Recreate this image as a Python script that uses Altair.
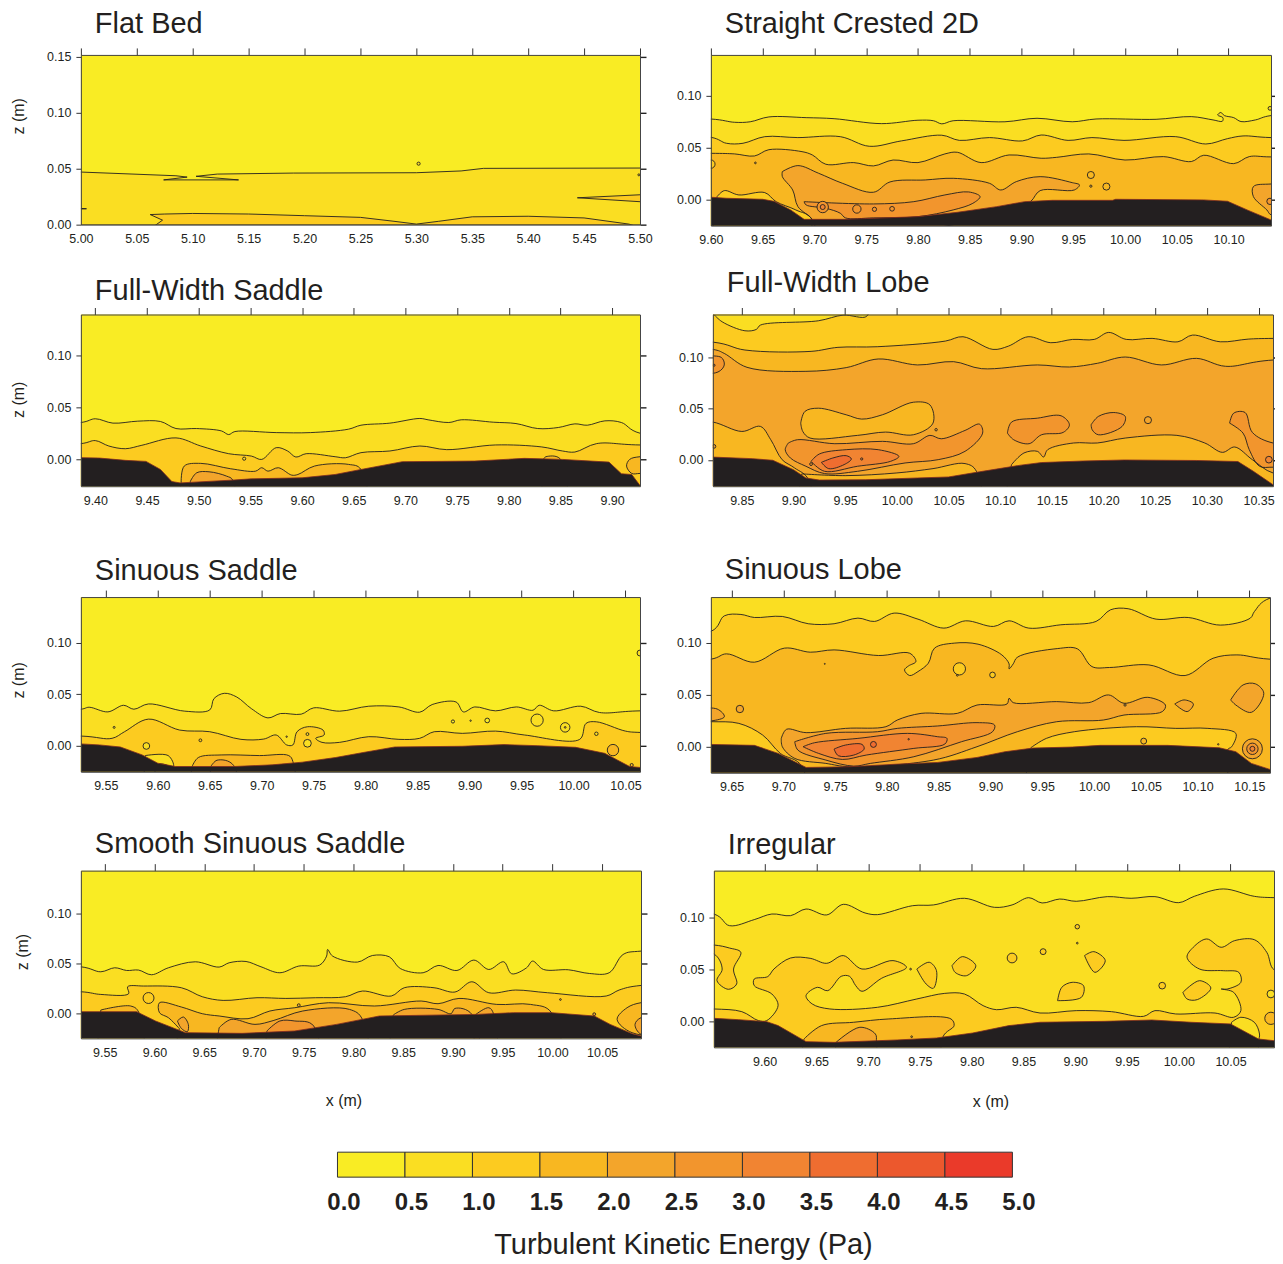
import altair as alt
import pandas as pd

FONT = "Liberation Sans"
INK = "#231F20"
COLORS = ["#F9EC24", "#FADE22", "#FCCB20", "#F8B721", "#F3A52B", "#F2952D", "#F18432", "#EF6D30", "#EC582D", "#EA3A2A"]
LEVELS = list(range(10))

# ---- Flat Bed
FB_BED = [(5.0, 0.0), (5.5, 0.0)]
FB_L1 = [(5.0,.047),(5.085,.0437),(5.095,.0425),(5.074,.040),(5.141,.040),(5.103,.0432),(5.122,.0452),(5.19,.0461),(5.30,.0464),(5.34,.048),(5.36,.0503),(5.50,.0506)]
FB_L2 = [(5.066,-.001),(5.073,.004),(5.062,.009),(5.075,.0095),(5.10,.0100),(5.15,.0095),(5.20,.0080),(5.25,.0065),(5.28,.003),(5.30,.0005),(5.32,.003),(5.35,.007),(5.40,.0075),(5.45,.006),(5.49,.0005),(5.495,-.001)]
FB_W = [(5.6,.0267),(5.50,.0267),(5.444,.024),(5.50,.0205),(5.6,.0205)]
FB_T = [(5.0,.014),(5.005,.0142),(5.0,.0145)]
FB_POINTS = [(5.302,.0545,10,1),(5.499,.0445,4,1)]

# ---- Straight Crested 2D
SC_BED = [(9.60,.002),(9.615,.001),(9.65,0),(9.661,-.002),(9.677,-.0103),(9.69,-.0194),(9.729,-.0194),(9.757,-.0184),(9.80,-.0168),(9.838,-.0126),(9.876,-.0071),(9.903,-.0023),(9.93,-.001),(9.988,-.001),(9.991,0),(10.076,-.0006),(10.099,-.0019),(10.118,-.0103),(10.141,-.02)]
SC_L1 = [(9.6,.0777),(9.623,.0745),(9.638,.075),(9.656,.0797),(9.692,.079),(9.719,.078),(9.765,.0732),(9.80,.0765),(9.815,.076),(9.823,.073),(9.834,.076),(9.884,.075),(9.915,.0784),(9.949,.075),(9.972,.0777),(10.03,.0774),(10.064,.08),(10.085,.0768),(10.094,.0755),(10.0945,.079),(10.0895,.0815),(10.0925,.084),(10.096,.081),(10.105,.079),(10.112,.0752),(10.126,.0768),(10.141,.081)]
SC_L2 = [(9.6,.06),(9.615,.0542),(9.631,.0542),(9.652,.0606),(9.684,.0597),(9.725,.0606),(9.753,.0513),(9.784,.0565),(9.823,.062),(9.84,.057),(9.869,.0597),(9.901,.0565),(9.919,.0622),(9.945,.057),(9.968,.0597),(9.999,.057),(10.049,.0606),(10.078,.0535),(10.099,.0587),(10.114,.0613),(10.141,.0597)]
SC_L3 = [(9.6,.0445),(9.623,.0439),(9.642,.0419),(9.656,.048),(9.688,.0461),(9.698,.0429),(9.711,.0339),(9.738,.0355),(9.757,.0323),(9.776,.038),(9.80,.0355),(9.826,.0439),(9.838,.0455),(9.861,.0355),(9.888,.0429),(9.919,.0397),(9.934,.0406),(9.965,.0439),(10.0,.038),(10.037,.0413),(10.064,.0365),(10.076,.0426),(10.105,.0345),(10.12,.0413),(10.141,.041)]
SC_B4 = [(9.669,.0268),(9.684,.0326),(9.704,.0252),(9.727,.0155),(9.757,.0068),(9.773,.0168),(9.807,.0187),(9.834,.0203),(9.869,.0155),(9.88,.009),(9.895,.0171),(9.918,.0219),(9.949,.0161),(9.956,.0139),(9.951,.009),(9.918,.0084),(9.909,-.002),(9.895,-.009),(9.80,-.03),(9.698,-.03),(9.698,-.02),(9.684,-.007),(9.679,.009),(9.669,.022)]
SC_B5 = [(9.69,-.0023),(9.757,-.0045),(9.796,-.0023),(9.826,.0042),(9.849,.0071),(9.86,.0026),(9.853,-.0039),(9.834,-.0103),(9.80,-.0168),(9.757,-.018),(9.73,-.018),(9.725,-.0135),(9.711,-.0087),(9.692,-.0055)]
SC_P2 = [(9.606,.0026),(9.613,.0084),(9.627,.0042),(9.652,.0065),(9.663,-.0023),(9.682,-.0103),(9.698,-.02)]
SC_R4 = [(10.2,.0148),(10.141,.0148),(10.124,.0123),(10.124,.0026),(10.137,-.0103),(10.141,-.015),(10.2,-.015)]
SC_POINTS = [(9.6,.034,70,2),(9.643,.0352,3,3),(9.708,-.0075,130,5),(9.708,-.0075,25,6),(9.741,-.0094,70,5),(9.758,-.0097,18,5),(9.775,-.0092,22,5),(9.967,.0235,50,3),(9.982,.0123,50,3),(9.967,.0127,5,3),(10.14,.088,14,1),(10.14,-.002,40,5)]

# ---- Full-Width Saddle
FS_BED = [(9.386,.002),(9.404,.0016),(9.429,-.0006),(9.449,-.0016),(9.463,-.0094),(9.474,-.021),(9.482,-.0223),(9.531,-.0197),(9.551,-.0184),(9.60,-.0174),(9.632,-.0142),(9.657,-.0094),(9.697,-.0019),(9.767,-.0013),(9.815,.0013),(9.852,.0003),(9.897,-.0023),(9.909,-.0135),(9.919,-.0142),(9.927,-.0248)]
FS_L1 = [(9.386,.0358),(9.40,.0394),(9.417,.0352),(9.441,.0371),(9.463,.0368),(9.478,.03),(9.498,.03),(9.522,.0277),(9.529,.0242),(9.535,.0271),(9.575,.0261),(9.608,.0261),(9.645,.0294),(9.657,.0332),(9.685,.0352),(9.714,.0397),(9.722,.0384),(9.742,.0358),(9.754,.0384),(9.785,.0361),(9.807,.0348),(9.828,.03),(9.848,.031),(9.864,.0345),(9.876,.0332),(9.893,.0374),(9.909,.0358),(9.927,.0255)]
FS_L2 = [(9.386,.0155),(9.40,.0184),(9.413,.0132),(9.429,.0106),(9.445,.0139),(9.478,.021),(9.502,.0132),(9.529,.0058),(9.551,.0035),(9.561,.0003),(9.575,.0116),(9.586,.0084),(9.594,.0026),(9.604,.0058),(9.632,.0029),(9.642,.0019),(9.657,.0068),(9.685,.0084),(9.714,.0132),(9.74,.0097),(9.787,.0142),(9.832,.0123),(9.852,.0084),(9.864,.0074),(9.885,.0155),(9.927,.0142)]
FS_B3 = [(9.483,-.0223),(9.486,-.0061),(9.502,-.0035),(9.531,-.0087),(9.555,-.011),(9.561,-.0077),(9.567,-.011),(9.577,-.0077),(9.59,-.0148),(9.596,-.0142),(9.612,-.0061),(9.645,-.0045),(9.657,-.0094)]
FS_B4 = [(9.492,-.0206),(9.498,-.0126),(9.51,-.0116),(9.527,-.0158),(9.533,-.0197)]
FS_R3 = [(9.96,.0029),(9.927,.0029),(9.917,.0003),(9.914,-.0061),(9.919,-.0132),(9.927,-.0132),(9.96,-.0132)]
FS_BUMP = [(9.834,.0013),(9.836,.0029),(9.85,.0006)]
FS_POINTS = [(9.544,.001,10,1)]

# ---- Full-Width Lobe
FL_BED = [(9.822,.0028),(9.86,.0013),(9.88,-.0003),(9.90,-.0095),(9.912,-.0175),(9.925,-.0195),(9.97,-.0192),(10.02,-.0175),(10.05,-.0165),(10.08,-.0115),(10.12,-.005),(10.14,-.0025),(10.18,-.001),(10.22,0),(10.29,-.0005),(10.33,-.0015),(10.345,-.011),(10.364,-.024)]
FL_CORNER = [(9.823,.1413),(9.831,.1342),(9.853,.1255),(9.864,.1268),(9.868,.131),(9.924,.1352),(9.948,.1407),(9.971,.1397),(9.971,.16),(9.80,.16)]
FL_L3 = [(9.822,.1145),(9.853,.1068),(9.917,.1055),(9.943,.1094),(9.981,.11),(10.047,.1155),(10.064,.1197),(10.093,.1074),(10.108,.1106),(10.127,.1197),(10.149,.1139),(10.17,.1171),(10.191,.1171),(10.205,.1239),(10.222,.1171),(10.247,.1181),(10.272,.1148),(10.286,.1213),(10.313,.1148),(10.34,.1174),(10.364,.1181)]
FL_L4 = [(9.822,.1074),(9.833,.1035),(9.855,.09),(9.912,.0861),(9.951,.0897),(9.982,.0981),(10.02,.0923),(10.055,.0955),(10.082,.0887),(10.136,.0923),(10.167,.0903),(10.194,.0939),(10.221,.1),(10.256,.0923),(10.29,.0987),(10.318,.091),(10.364,.0971)]
FL_LEFT3 = [(9.80,.0368),(9.822,.0368),(9.85,.0277),(9.868,.0326),(9.878,.0197),(9.889,.0003),(9.901,-.0077),(9.915,-.02)]
FL_RIGHT3 = [(10.111,-.0045),(10.123,.0068),(10.136,.0084),(10.142,.0029),(10.146,.01),(10.171,.0165),(10.194,.0165),(10.221,.0213),(10.271,.0239),(10.298,.0165),(10.315,.0074),(10.327,.0126),(10.344,.0003),(10.364,-.0126),(10.40,-.0126)]
FL_HOLE = [(9.907,.0358),(9.911,.0471),(9.924,.0503),(9.951,.0439),(9.966,.0397),(9.986,.0439),(10.016,.0561),(10.032,.0535),(10.035,.0358),(10.016,.0245),(9.989,.0271),(9.962,.0239),(9.916,.0213),(9.909,.0277)]
FL_STRIP = [(9.908,-.0135),(9.95,-.0152),(10.0,-.0126),(10.035,-.0084),(10.066,-.0035),(10.077,-.011)]
FL_LENS5 = [(9.895,.0165),(9.904,.0197),(9.94,.0158),(9.986,.0181),(10.016,.0158),(10.032,.0239),(10.043,.0206),(10.066,.0287),(10.08,.0348),(10.083,.0261),(10.066,.0084),(10.04,.0003),(10.008,-.0029),(9.962,-.011),(9.93,-.0132),(9.912,-.0061),(9.897,.0019),(9.892,.01)]
FL_LENS6 = [(9.917,-.0013),(9.925,.0058),(9.951,.01),(9.982,.01),(10.002,.0035),(9.994,-.0013),(9.962,-.0061),(9.93,-.011)]
FL_LENS7 = [(9.927,-.0023),(9.938,.0019),(9.951,.0042),(9.956,.001),(9.949,-.0045),(9.934,-.0084)]
FL_A5 = [(10.107,.0261),(10.111,.0368),(10.136,.0406),(10.159,.0429),(10.167,.0342),(10.161,.0268),(10.14,.0245),(10.128,.0158),(10.113,.0197)]
FL_B5 = [(10.188,.0342),(10.195,.0423),(10.21,.0461),(10.221,.0423),(10.218,.0326),(10.195,.0245),(10.189,.0294)]
FL_D5 = [(10.322,.0358),(10.326,.0455),(10.337,.0461),(10.344,.0268),(10.364,.0165),(10.40,.0165),(10.40,-.007),(10.364,-.007),(10.351,-.0061),(10.341,.01),(10.335,.0261)]
FL_E5 = [(9.80,.0997),(9.83,.0997),(9.833,.0923),(9.827,.0855),(9.80,.0855)]
FL_POINTS = [(10.243,.0387,50,4),(9.823,.0132,14,4),(9.966,.001,5,6),(10.038,.0294,6,4),(10.36,.0003,45,6),(9.823,.092,5,6),(9.917,-.004,8,5)]

# ---- Sinuous Saddle
SS_BED = [(9.526,.002),(9.544,.001),(9.564,-.001),(9.585,-.0087),(9.6,-.0167),(9.617,-.0199),(9.673,-.0199),(9.71,-.0183),(9.739,-.0157),(9.771,-.0112),(9.799,-.0061),(9.828,-.001),(9.893,-.0003),(9.933,.0013),(9.965,.0003),(10.002,-.0013),(10.03,-.0071),(10.054,-.0199),(10.064,-.0208)]
SS_L1 = [(9.526,.0356),(9.534,.0375),(9.552,.033),(9.567,.0394),(9.577,.0356),(9.591,.0407),(9.626,.0337),(9.65,.0349),(9.654,.0458),(9.664,.051),(9.676,.0474),(9.69,.0362),(9.706,.0272),(9.718,.0314),(9.738,.0308),(9.75,.0369),(9.775,.0337),(9.803,.0385),(9.832,.0378),(9.852,.0327),(9.864,.0401),(9.887,.0426),(9.894,.033),(9.905,.0378),(9.925,.034),(9.945,.0378),(9.961,.0346),(9.967,.0394),(9.981,.034),(10.007,.0385),(10.025,.0324),(10.064,.034)]
SS_L2 = [(9.526,.0096),(9.556,.0074),(9.568,.0138),(9.591,.026),(9.621,.0154),(9.65,.0138),(9.68,.0064),(9.702,.0067),(9.714,.0106),(9.724,.001),(9.73,.001),(9.734,.0138),(9.744,.0186),(9.759,.0154),(9.76,.0106),(9.752,.0074),(9.758,.0035),(9.775,.0035),(9.803,.009),(9.832,.0064),(9.852,.0074),(9.866,.0138),(9.893,.0122),(9.925,.0144),(9.953,.0106),(10.006,.0064),(10.012,.0218),(10.022,.0234),(10.05,.0144),(10.064,.0131)]
SS_B3 = [(9.633,-.0199),(9.639,-.0112),(9.661,-.0087),(9.698,-.0093),(9.726,-.0093),(9.73,-.0151)]
SS_B4 = [(9.651,-.0199),(9.657,-.0138),(9.673,-.0189)]
SS_B1 = [(9.588,-.0093),(9.61,-.0093),(9.615,-.0199),(9.6,-.0183)]
SS_POINTS = [(9.589,0,45,1),(9.965,.025,150,1),(9.992,.018,90,1),(10.038,-.004,130,3),(9.744,.0026,60,1),(9.744,.0115,8,1),(9.641,.0055,8,2),(9.558,.018,4,1),(9.884,.0237,10,0),(9.917,.0247,22,0),(9.901,.0245,2,0),(9.992,.018,3,3),(10.022,.0118,12,1),(10.056,-.0185,10,3),(9.724,.009,2,3),(10.064,.09,35,1)]

# ---- Sinuous Lobe
SL_BED = [(9.63,.0022),(9.672,.0013),(9.695,-.0064),(9.722,-.0199),(9.764,-.0192),(9.81,-.0167),(9.849,-.0151),(9.887,-.0103),(9.914,-.0048),(9.941,-.0013),(9.979,-.0003),(10.006,.0013),(10.071,.0013),(10.121,-.001),(10.137,-.0048),(10.152,-.016),(10.17,-.0218)]
SL_L1 = [(9.63,.1106),(9.643,.1256),(9.659,.1269),(9.672,.124),(9.699,.125),(9.724,.118),(9.749,.118),(9.772,.1234),(9.788,.1202),(9.807,.1282),(9.83,.1224),(9.855,.1138),(9.876,.1208),(9.903,.1154),(9.918,.1208),(9.937,.1138),(9.968,.117),(10.002,.1202),(10.016,.1314),(10.033,.1324),(10.06,.1224),(10.091,.124),(10.122,.1167),(10.151,.1234),(10.155,.1298),(10.17,.1426)]
SL_L2 = [(9.63,.084),(9.645,.0891),(9.672,.0811),(9.701,.0946),(9.726,.0907),(9.749,.0929),(9.792,.0875),(9.822,.0897),(9.828,.0817),(9.821,.0776),(9.817,.0737),(9.822,.0683),(9.83,.0721),(9.84,.0801),(9.846,.0946),(9.865,.0994),(9.888,.0984),(9.911,.0881),(9.918,.0795),(9.918,.0747),(9.922,.0795),(9.926,.0859),(9.965,.0942),(9.984,.0939),(9.998,.0769),(10.015,.076),(10.053,.0785),(10.088,.0683),(10.115,.0849),(10.138,.0881),(10.17,.084)]
SL_LEFT2 = [(9.60,.024),(9.63,.024),(9.657,.0224),(9.68,.0112),(9.697,-.0064),(9.718,-.0192)]
SL_RIGHT2 = [(9.939,-.001),(9.954,.008),(9.981,.0144),(10.041,.0192),(10.079,.0176),(10.11,.0176),(10.137,.0128),(10.133,0),(10.129,-.003)]
SL_E4 = [(9.60,.0353),(9.636,.0362),(9.643,.0288),(9.63,.0247),(9.60,.0247)]
SL_M4 = [(9.698,.008),(9.703,.0167),(9.722,.0135),(9.76,.0176),(9.799,.0192),(9.81,.0256),(9.833,.032),(9.868,.032),(9.887,.04),(9.916,.041),(9.918,.0465),(9.922,.0423),(9.964,.0433),(9.995,.0423),(10.014,.0497),(10.029,.0417),(10.052,.0474),(10.069,.04),(10.066,.0337),(10.029,.0304),(10.009,.0256),(9.964,.024),(9.926,.0144),(9.887,0),(9.845,-.0128),(9.764,-.0192),(9.741,-.016),(9.711,-.0112),(9.699,0)]
SL_M5 = [(9.711,.0048),(9.741,.0128),(9.791,.0144),(9.81,.0176),(9.849,.0199),(9.887,.0231),(9.904,.0208),(9.902,.0144),(9.872,.0048),(9.826,-.0096),(9.784,-.016),(9.768,-.0186),(9.741,-.0128),(9.714,-.0032)]
SL_M6 = [(9.719,0),(9.73,.0038),(9.772,.008),(9.82,.0128),(9.849,.0096),(9.858,.008),(9.856,.0026),(9.826,-.0016),(9.78,-.008),(9.757,-.0122),(9.734,-.0064)]
SL_M7 = [(9.749,-.0022),(9.76,.0016),(9.776,.0022),(9.778,-.0022),(9.768,-.008),(9.753,-.0086)]
SL_R4 = [(10.132,.0449),(10.144,.0593),(10.156,.0603),(10.164,.0513),(10.152,.033),(10.137,.04)]
SL_S4 = [(10.078,.041),(10.087,.0449),(10.096,.041),(10.09,.0337)]
SL_POINTS = [(9.87,.0747,150,2),(9.658,.0362,55,4),(9.902,.0689,32,2),(10.048,.0054,35,3),(9.787,.0022,35,7),(10.153,-.002,400,4),(10.153,-.002,130,5),(10.153,-.002,25,6),(9.74,.0795,1,3),(9.821,.0072,2,6),(10.03,.04,5,3),(9.868,.0685,3,3),(10.12,.0023,2,3)]

# ---- Smooth Sinuous Saddle
SM_BED = [(9.526,.002),(9.582,.002),(9.601,-.0073),(9.631,-.019),(9.688,-.0197),(9.741,-.0173),(9.783,-.0107),(9.826,-.0023),(9.923,-.0007),(9.961,.001),(9.999,.001),(10.042,-.0023),(10.058,-.0107),(10.08,-.02),(10.089,-.0223)]
SM_L1 = [(9.526,.047),(9.546,.042),(9.56,.046),(9.572,.0433),(9.584,.0437),(9.597,.039),(9.614,.046),(9.641,.052),(9.665,.0467),(9.675,.051),(9.692,.0523),(9.707,.047),(9.726,.041),(9.745,.0477),(9.766,.0487),(9.773,.0577),(9.774,.0643),(9.779,.0577),(9.804,.0517),(9.819,.0583),(9.836,.057),(9.847,.0453),(9.87,.041),(9.885,.0483),(9.904,.0433),(9.921,.0537),(9.936,.0443),(9.951,.052),(9.959,.04),(9.974,.046),(9.98,.0527),(9.991,.0443),(10.016,.044),(10.037,.0403),(10.057,.041),(10.071,.0593),(10.089,.0627)]
SM_L2 = [(9.526,.022),(9.546,.0193),(9.574,.02),(9.573,.027),(9.589,.0277),(9.627,.026),(9.648,.017),(9.669,.0133),(9.703,.016),(9.732,.0153),(9.762,.016),(9.792,.017),(9.809,.0227),(9.838,.0177),(9.851,.026),(9.881,.026),(9.902,.0217),(9.919,.032),(9.936,.021),(9.963,.0237),(9.995,.021),(10.054,.0177),(10.067,.0237),(10.089,.0283)]
SM_L3 = [(9.625,-.015),(9.614,-.004),(9.605,.001),(9.605,.011),(9.627,.0067),(9.648,0),(9.665,-.0023),(9.694,-.005),(9.716,.0027),(9.741,.006),(9.775,.011),(9.821,.0077),(9.868,.0127),(9.885,.01),(9.906,.0153),(9.944,.0093),(9.978,.0093),(9.999,.001)]
SM_LEFT3 = [(9.546,.0037),(9.576,.0077),(9.584,.0017)]
SM_B4A = [(9.665,-.014),(9.677,-.0057),(9.701,-.0107),(9.72,-.0067),(9.749,.0027),(9.796,.0043),(9.809,-.0057)]
SM_B4B = [(9.84,-.0013),(9.851,.0043),(9.885,.0043),(9.898,0),(9.902,.0053),(9.919,-.0007)]
SM_B4C = [(9.923,-.0007),(9.936,.006),(9.941,-.0007)]
SM_B5 = [(9.713,-.0173),(9.726,-.0073),(9.741,-.0073),(9.76,-.0123)]
SM_R3 = [(10.12,.011),(10.089,.011),(10.075,.006),(10.065,-.0057),(10.08,-.019),(10.12,-.019)]
SM_R4 = [(10.12,-.004),(10.089,-.004),(10.083,-.0107),(10.089,-.0207),(10.12,-.0207)]
SM_O4 = [(9.623,-.0073),(9.629,-.0033),(9.634,-.0107),(9.633,-.018),(9.627,-.0147)]
SM_POINTS = [(9.594,.0157,120,2),(10.008,.0142,3,3),(9.745,.0085,8,3),(10.042,-.0005,8,4)]

# ---- Irregular
IR_BED = [(9.551,.0032),(9.575,.0019),(9.602,0),(9.613,-.0038),(9.64,-.0192),(9.667,-.0199),(9.728,-.0176),(9.766,-.0157),(9.801,-.0109),(9.836,-.0038),(9.866,-.0006),(9.928,.0003),(9.974,.0016),(10.012,-.0006),(10.05,-.0022),(10.077,-.0167),(10.092,-.0183)]
IR_L1 = [(9.551,.1035),(9.566,.0923),(9.59,.0981),(9.607,.1035),(9.625,.1019),(9.64,.1083),(9.66,.1026),(9.676,.1128),(9.697,.1045),(9.709,.1029),(9.743,.1115),(9.763,.1122),(9.793,.1186),(9.822,.1099),(9.839,.1122),(9.855,.1192),(9.868,.1141),(9.885,.1179),(9.901,.1157),(9.931,.1202),(9.954,.1186),(9.977,.1202),(10.0,.1144),(10.015,.1205),(10.043,.1276),(10.073,.1205),(10.092,.1192)]
IR_BAND2 = [(9.50,.0122),(9.551,.0122),(9.578,.0096),(9.594,.001),(9.602,.001),(9.613,.0154),(9.607,.0266),(9.59,.0346),(9.59,.041),(9.603,.0433),(9.609,.0506),(9.625,.0612),(9.644,.0609),(9.66,.0561),(9.676,.0635),(9.694,.0506),(9.724,.0587),(9.737,.0522),(9.713,.0417),(9.694,.0292),(9.688,.0346),(9.682,.0436),(9.674,.0436),(9.661,.0298),(9.651,.033),(9.64,.025),(9.646,.017),(9.663,.0122),(9.709,.0138),(9.747,.0218),(9.774,.0272),(9.793,.0266),(9.811,.0154),(9.824,.0115),(9.843,.0138),(9.866,.0083),(9.901,.0106),(9.935,.0096),(9.966,.0051),(9.977,.0106),(9.997,.0074),(10.035,.0083),(10.053,.0042),(10.06,.0106),(10.053,.0282),(10.041,.0314),(10.047,.0314),(10.06,.0378),(10.058,.0474),(10.043,.049),(10.02,.0506),(10.008,.0619),(10.014,.0715),(10.027,.0795),(10.041,.0715),(10.054,.0779),(10.073,.0788),(10.085,.0667),(10.092,.05),(10.12,.05),(10.12,-.05),(9.50,-.05)]
IR_HOLE1 = [(10.051,-.0006),(10.06,.0042),(10.073,-.0006),(10.078,-.0119),(10.077,-.02)]
IR_LEFT2 = [(9.50,.0737),(9.551,.0737),(9.566,.0708),(9.577,.0667),(9.57,.0506),(9.573,.0362),(9.565,.0311),(9.554,.0394),(9.559,.0506),(9.551,.0651),(9.50,.0651)]
IR_B1 = [(9.747,.0506),(9.759,.0571),(9.766,.049),(9.763,.0321),(9.756,.0362)]
IR_B2 = [(9.781,.0538),(9.791,.0625),(9.804,.0538),(9.795,.0442),(9.784,.0474)]
IR_B3 = [(9.909,.0635),(9.918,.0673),(9.929,.0587),(9.919,.0474)]
IR_B4 = [(9.883,.0202),(9.887,.033),(9.897,.0378),(9.908,.0346),(9.906,.0234)]
IR_B5 = [(10.004,.0282),(10.02,.0394),(10.031,.0324),(10.018,.0212),(10.008,.0218)]
IR_L3 = [(9.638,-.0167),(9.655,-.0038),(9.686,-.0006),(9.72,.0026),(9.78,.0026),(9.783,-.0038),(9.772,-.0151)]
IR_L4 = [(9.669,-.0199),(9.692,-.0054),(9.707,-.0119),(9.708,-.0199)]
IR_POINTS = [(9.839,.0612,95,2),(9.869,.0673,35,2),(9.902,.0913,20,2),(9.984,.0346,45,2),(10.089,.0266,60,1),(10.089,.0032,150,3),(9.741,.0505,3,2),(9.902,.0755,3,2),(9.742,-.0145,3,3)]

PANELS = [
    dict(t="Flat Bed", xd=(5.0,5.5), zd=(0,.1517), xt=[5+i*.05 for i in range(11)], zt=[0,.05,.10,.15], w=560, h=170, base=0,
         bed=FB_BED, pts=FB_POINTS, ztitle=61, ztx=-54, off=0, interp="linear",
         polys=[(1,FB_L1,"span"),(2,FB_L2,"bed"),(2,FB_W,"loop"),(2,FB_T,"loop")]),
    dict(t="Straight Crested 2D", xd=(9.6,10.141), zd=(-.0255,.1397), xt=[9.6+i*.05 for i in range(11)], zt=[0,.05,.10], w=561, h=171, base=0,
         bed=SC_BED, pts=SC_POINTS, off=0,
         polys=[(1,SC_L1,"span"),(2,SC_L2,"span"),(3,SC_L3,"span"),(2,SC_P2,"bed"),(4,SC_B4,"loop"),(5,SC_B5,"loop"),(4,SC_R4,"loop")]),
    dict(t="Full-Width Saddle", xd=(9.386,9.927), zd=(-.0255,.1397), xt=[9.4+i*.05 for i in range(11)], zt=[0,.05,.10], w=560, h=172, base=0,
         bed=FS_BED, pts=FS_POINTS, ztitle=85, ztx=-54, off=-7,
         polys=[(1,FS_L1,"span"),(2,FS_L2,"span"),(3,FS_B3,"bed"),(4,FS_B4,"bed"),(3,FS_R3,"loop"),(3,FS_BUMP,"bed")]),
    dict(t="Full-Width Lobe", xd=(9.822,10.364), zd=(-.0255,.1413), xt=[9.85+i*.05 for i in range(11)], zt=[0,.05,.10], w=561, h=172, base=2,
         bed=FL_BED, pts=FL_POINTS, off=1,
         polys=[(1,FL_CORNER,"loop"),(3,FL_L3,"span"),(4,FL_L4,"span"),(3,FL_LEFT3,"bed"),(3,FL_RIGHT3,"bed"),(3,FL_HOLE,"loop"),(3,FL_STRIP,"bed"),(5,FL_LENS5,"loop"),(6,FL_LENS6,"loop"),(7,FL_LENS7,"loop"),(5,FL_A5,"loop"),(5,FL_B5,"loop"),(5,FL_D5,"loop"),(5,FL_E5,"loop")]),
    dict(t="Sinuous Saddle", xd=(9.526,10.064), zd=(-.025,.1442), xt=[9.55+i*.05 for i in range(11)], zt=[0,.05,.10], w=560, h=175, base=0,
         bed=SS_BED, pts=SS_POINTS, ztitle=83, ztx=-54, off=-4,
         polys=[(1,SS_L1,"span"),(2,SS_L2,"span"),(3,SS_B3,"bed"),(4,SS_B4,"bed"),(1,SS_B1,"bed")]),
    dict(t="Sinuous Lobe", xd=(9.63,10.17), zd=(-.025,.1436), xt=[9.65+i*.05 for i in range(11)], zt=[0,.05,.10], w=560, h=176, base=1,
         bed=SL_BED, pts=SL_POINTS, off=-3,
         polys=[(2,SL_L1,"span"),(3,SL_L2,"span"),(2,SL_LEFT2,"bed"),(2,SL_RIGHT2,"bed"),(4,SL_E4,"loop"),(4,SL_M4,"loop"),(5,SL_M5,"loop"),(6,SL_M6,"loop"),(7,SL_M7,"loop"),(4,SL_R4,"loop"),(4,SL_S4,"loop")]),
    dict(t="Smooth Sinuous Saddle", xd=(9.526,10.089), zd=(-.0247,.1433), xt=[9.55+i*.05 for i in range(11)], zt=[0,.05,.10], w=561, h=168, base=0,
         bed=SM_BED, pts=SM_POINTS, ztitle=81, ztx=-50, xtitle=True, titlex=263, titley=54, off=-4,
         polys=[(1,SM_L1,"span"),(2,SM_L2,"span"),(3,SM_L3,"bed"),(3,SM_LEFT3,"bed"),(4,SM_B4A,"bed"),(4,SM_B4B,"bed"),(4,SM_B4C,"bed"),(5,SM_B5,"bed"),(3,SM_R3,"loop"),(4,SM_R4,"loop"),(4,SM_O4,"loop")]),
    dict(t="Irregular", xd=(9.551,10.092), zd=(-.0247,.1452), xt=[9.6+i*.05 for i in range(10)], zt=[0,.05,.10], w=561, h=177, base=0,
         bed=IR_BED, pts=IR_POINTS, xtitle=True, titlex=277, titley=46, off=-5,
         polys=[(1,IR_L1,"span"),(2,IR_BAND2,"loop"),(1,IR_HOLE1,"bed"),(2,IR_LEFT2,"loop"),(2,IR_B1,"loop"),(2,IR_B2,"loop"),(2,IR_B3,"loop"),(2,IR_B4,"loop"),(2,IR_B5,"loop"),(3,IR_L3,"bed"),(4,IR_L4,"bed")]),
]

CB_LOW = [0.0,0.5,1.0,1.5,2.0,2.5,3.0,3.5,4.0,4.5]
CB_HIGH = [0.5,1.0,1.5,2.0,2.5,3.0,3.5,4.0,4.5,5.0]
CB_TICKS = [0.0,0.5,1.0,1.5,2.0,2.5,3.0,3.5,4.0,4.5,5.0]
BASELINE = -3.0


def closed(p):
    """Every filled contour region as (level, outline), outlines closed."""
    x0, x1 = p["xd"]
    out = [(p["base"], [(x0-1, 2), (x1+1, 2), (x1+1, -1), (x0-1, -1), (x0-1, 2)])]
    for level, c, mode in p["polys"]:
        pts = list(c)
        if mode == "span":
            pts = [(pts[0][0]-1, pts[0][1])] + pts + [(pts[-1][0]+1, pts[-1][1]), (pts[-1][0]+1, -1), (pts[0][0]-1, -1)]
        elif mode == "bed":
            pts = pts + [(pts[-1][0], -.2), (pts[0][0], -.2)]
        out.append((level, pts + [pts[0]]))
    return out


def panel(i, p):
    xs = alt.Scale(domain=list(p["xd"]), nice=False, zero=False)
    zs = alt.Scale(domain=list(p["zd"]), nice=False, zero=False)
    cs = alt.Scale(domain=LEVELS, range=COLORS)
    curve = p.get("interp", "catmull-rom")
    xa = alt.Axis(orient="bottom", values=[round(v, 2) for v in p["xt"]], format=".2f", ticks=False, labelPadding=8,
                  labelFlush=False, labelOverlap=False,
                  labelFont=FONT, labelFontSize=12.5, labelColor=INK, grid=False, domain=True, domainColor="#444", zindex=1,
                  title="x (m)" if p.get("xtitle") else None, titleFont=FONT, titleFontSize=16, titleFontWeight="normal",
                  titleColor=INK, titleX=p.get("titlex", 280), titleY=p.get("titley", 40))
    ya = alt.Axis(orient="left", values=p["zt"], format=".2f", tickSize=5, tickColor="#333", labelPadding=5,
                  labelFlush=False, labelOverlap=False,
                  labelFont=FONT, labelFontSize=12.5, labelColor=INK, grid=False, domain=True, domainColor="#444", zindex=1,
                  title="z (m)" if "ztitle" in p else None, titleFont=FONT, titleFontSize=16, titleFontWeight="normal",
                  titleColor=INK, titleY=p.get("ztitle", 80), titleX=p.get("ztx", -54))
    xb = alt.Axis(orient="top", values=[round(v, 2) for v in p["xt"]], labels=False, tickSize=7, tickColor="#333",
                  grid=False, domain=True, domainColor="#444", zindex=1, title=None)
    yb = alt.Axis(orient="right", values=p["zt"], labels=False, tickSize=6, tickColor="#222", tickWidth=1.4,
                  grid=False, domain=True, domainColor="#444", zindex=1, title=None)
    layers, lines = [], []
    for n, (level, outline) in enumerate(closed(p)):
        d = pd.DataFrame(outline, columns=["x", "z"]).assign(low=BASELINE)
        layers.append(alt.Chart(d).mark_area(clip=True, color=COLORS[level], interpolate=curve if n else "linear", order=False).encode(
            x=alt.X("x:Q", scale=xs, axis=xa if n == 0 else None),
            y=alt.Y("z:Q", scale=zs, axis=ya if n == 0 else None),
            y2="low:Q",
        ))
        if n > 0:
            lines.append(alt.Chart(d).mark_line(clip=True, color=INK, strokeWidth=0.9, interpolate=curve, order=False).encode(
                x=alt.X("x:Q", scale=xs, axis=None),
                y=alt.Y("z:Q", scale=zs, axis=None),
            ))
    pts = pd.DataFrame(p["pts"], columns=["x", "z", "s", "level"])
    dots = alt.Chart(pts).mark_point(filled=True, opacity=1, stroke=INK, strokeWidth=0.9, clip=True).encode(
        x=alt.X("x:Q", scale=xs, axis=None),
        y=alt.Y("z:Q", scale=zs, axis=None),
        size=alt.Size("s:Q", scale=None, legend=None),
        color=alt.Color("level:O", scale=cs, legend=None),
    )
    bdf = pd.DataFrame(p["bed"], columns=["x", "z"]).assign(low=-0.2)
    bed = alt.Chart(bdf).mark_area(clip=True, color=INK, interpolate="linear").encode(
        x=alt.X("x:Q", scale=xs, axis=None),
        y=alt.Y("z:Q", scale=zs, axis=None),
        y2="low:Q",
    )
    rim = alt.Chart(bdf).mark_line(clip=True, color="#7E2A20" if i else INK, strokeWidth=0.8).encode(
        x=alt.X("x:Q", scale=xs, axis=xb),
        y=alt.Y("z:Q", scale=zs, axis=yb),
    )
    title = alt.TitleParams(p["t"], anchor="start", frame="group", dx=14, dy=-8, offset=p["off"], font=FONT, fontSize=29,
                            fontWeight="normal", color=INK)
    return alt.layer(*layers, *lines, dots, bed, rim).resolve_axis(x="independent", y="independent").properties(
        width=p["w"], height=p["h"], title=title)


charts = [panel(i, p) for i, p in enumerate(PANELS)]
r1 = alt.hconcat(charts[0], charts[1], spacing=23)
r2 = alt.hconcat(charts[2], charts[3], spacing=31)
r3 = alt.hconcat(charts[4], charts[5], spacing=29)
r4 = alt.hconcat(charts[6], charts[7], spacing=31)

cb = pd.DataFrame({"low": CB_LOW, "high": CB_HIGH, "level": LEVELS})
bar = alt.Chart(cb).mark_rect(stroke="#333", strokeWidth=1).encode(
    x=alt.X("low:Q", scale=alt.Scale(domain=[0, 5], nice=False, zero=False),
            axis=alt.Axis(values=CB_TICKS, format=".1f", ticks=False, domain=False, grid=False, labelFont=FONT,
                          labelFlush=False, labelOverlap=False,
                          labelFontSize=24, labelFontWeight="bold", labelColor=INK, labelPadding=13, labelOffset=6,
                          title="Turbulent Kinetic Energy (Pa)", titleFont=FONT, titleFontSize=29,
                          titleFontWeight="normal", titleColor=INK, titlePadding=16, titleX=346)),
    x2="high:Q",
    color=alt.Color("level:O", scale=alt.Scale(domain=LEVELS, range=COLORS), legend=None),
).properties(width=676, height=25)
spacer = alt.Chart(cb).mark_point(opacity=0).encode(x=alt.value(0), y=alt.value(0)).properties(width=246, height=1)
r5 = alt.hconcat(spacer, bar, spacing=0)

chart = alt.vconcat(alt.vconcat(alt.vconcat(alt.vconcat(r1, r2, spacing=22), r3, spacing=48), r4, spacing=36), r5, spacing=40
                    ).configure_view(stroke=None).properties(padding=dict(left=3, top=1, right=-6, bottom=0))
chart.save("out.html", embed_options={"renderer": "svg", "actions": False})
